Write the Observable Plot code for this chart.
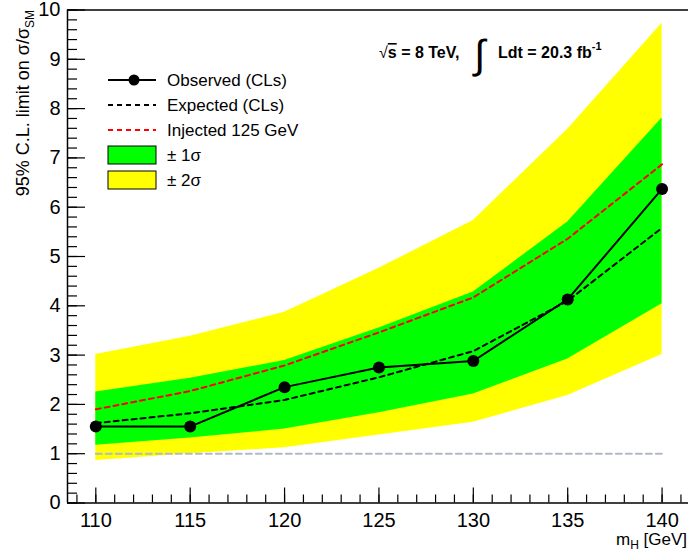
<!DOCTYPE html>
<html><head><meta charset="utf-8">
<script src="https://cdn.jsdelivr.net/npm/d3@7"></script>
<script src="https://cdn.jsdelivr.net/npm/@observablehq/plot@0.6"></script>
<style>body{margin:0;background:#fff;font-family:"Liberation Sans",Arial,sans-serif} svg{overflow:visible}</style>
</head><body><div id="chart"></div>
<script>
const mass     = [110, 115, 120, 125, 130, 135, 140];
const observed = [1.55, 1.55, 2.35, 2.75, 2.88, 4.13, 6.37];
const expected = [1.62, 1.82, 2.09, 2.55, 3.08, 4.10, 5.58];
const injected = [1.90, 2.27, 2.79, 3.46, 4.17, 5.36, 6.87];
const band1Lo  = [1.17, 1.32, 1.50, 1.83, 2.21, 2.92, 4.04];
const band1Hi  = [2.25, 2.53, 2.89, 3.55, 4.28, 5.70, 7.81];
const band2Lo  = [0.86, 1.00, 1.12, 1.38, 1.64, 2.18, 3.01];
const band2Hi  = [3.01, 3.38, 3.87, 4.76, 5.73, 7.58, 9.73];
const smRef    = 1;
const xTicks = [110, 115, 120, 125, 130, 135, 140];
const yTicks = [0, 1, 2, 3, 4, 5, 6, 7, 8, 9, 10];
const legendLabels = ["Observed (CLs)", "Expected (CLs)", "Injected 125 GeV", "± 1σ", "± 2σ"];

const rows = mass.map((m, i) => ({m, obs: observed[i], exp: expected[i], inj: injected[i],
  b1lo: band1Lo[i], b1hi: band1Hi[i], b2lo: band2Lo[i], b2hi: band2Hi[i]}));
const refLine = [{m: mass[0], v: smRef}, {m: mass[mass.length - 1], v: smRef}];

const W = 690, H = 552, mL = 67, mR = 2, mT = 9.5, mB = 49.5;
const plotW = W - mL - mR, plotH = H - mT - mB;
const xDomain = [108.5, 141.4];
const xMinor = d3.range(109, 142, 1);
const yMinor = d3.range(0, 10.001, 0.2);
const FONT = '"Liberation Sans", Arial, Helvetica, sans-serif';

const chart = Plot.plot({
  width: W, height: H, marginLeft: mL, marginRight: mR, marginTop: mT, marginBottom: mB,
  x: {domain: xDomain},
  y: {domain: [0, 10]},
  style: {fontFamily: FONT, fontSize: "20px", background: "white", color: "black", overflow: "visible"},
  marks: [
    Plot.areaY(rows, {x: "m", y1: "b2lo", y2: "b2hi", fill: "#ffff00"}),
    Plot.areaY(rows, {x: "m", y1: "b1lo", y2: "b1hi", fill: "#00ff00"}),
    Plot.line(refLine, {x: "m", y: "v", stroke: "#b0bac6", strokeWidth: 2, strokeDasharray: "6,4"}),
    Plot.line(rows, {x: "m", y: "inj", stroke: "#ff0000", strokeWidth: 2, strokeDasharray: "5,4"}),
    Plot.line(rows, {x: "m", y: "exp", stroke: "black", strokeWidth: 2, strokeDasharray: "5,4"}),
    Plot.line(rows, {x: "m", y: "obs", stroke: "black", strokeWidth: 2}),
    Plot.dot(rows, {x: "m", y: "obs", r: 6, fill: "black"}),
    Plot.tickY(yTicks, {y: d => d, insetRight: plotW - 18, stroke: "black", strokeWidth: 1.2}),
    Plot.tickY(yMinor, {y: d => d, insetRight: plotW - 10, stroke: "black", strokeWidth: 1.2}),
    Plot.tickX(xTicks, {x: d => d, insetTop: plotH - 15, stroke: "black", strokeWidth: 1.2}),
    Plot.tickX(xMinor, {x: d => d, insetTop: plotH - 8, stroke: "black", strokeWidth: 1.2}),
    Plot.ruleX([xDomain[0]], {stroke: "black", strokeWidth: 1.5}),
    Plot.ruleY([0], {stroke: "black", strokeWidth: 1.5}),
    Plot.ruleY([10], {stroke: "black", strokeWidth: 1.5}),
    Plot.axisY({ticks: yTicks, tickSize: 0, tickPadding: 7, label: null, fontSize: 20}),
    Plot.axisX({ticks: xTicks, tickSize: 0, tickPadding: 10, label: null, fontSize: 20})
  ]
});
document.getElementById("chart").append(chart);

const svg = d3.select(chart);
// y-axis label
const yl = svg.append("text").attr("transform", "translate(29,10) rotate(-90)")
  .attr("text-anchor", "end").attr("font-size", 18).attr("font-family", FONT).attr("fill", "black");
yl.append("tspan").text("95% C.L. limit on σ/σ");
yl.append("tspan").attr("font-size", 12).attr("dy", 5).text("SM");
// x-axis label
const xl = svg.append("text").attr("x", 687).attr("y", 545).attr("text-anchor", "end")
  .attr("font-size", 17).attr("font-family", FONT).attr("fill", "black");
xl.append("tspan").text("m");
xl.append("tspan").attr("font-size", 12).attr("dy", 4).text("H");
xl.append("tspan").attr("dy", -4).text(" [GeV]");
// energy / luminosity annotation
const ann = svg.append("g").attr("font-family", FONT).attr("fill", "black").attr("text-anchor", "start");
const sq = ann.append("text").attr("x", 379).attr("y", 58).attr("font-size", 16).attr("font-weight", "bold").attr("text-anchor", "start");
sq.append("tspan").attr("font-weight", "normal").text("√");
sq.append("tspan").attr("text-decoration", "overline").text("s");
sq.append("tspan").text(" = 8 TeV,");
ann.append("text").attr("x", 474).attr("y", 68).attr("font-size", 40).attr("text-anchor", "start").text("∫");
const lum = ann.append("text").attr("x", 498).attr("y", 58).attr("font-size", 16).attr("font-weight", "bold").attr("text-anchor", "start");
lum.append("tspan").text("Ldt = 20.3 fb");
lum.append("tspan").attr("font-size", 11).attr("dy", -8).text("-1");
// legend
const lg = svg.append("g").attr("font-family", FONT).attr("font-size", 17).attr("fill", "black").attr("text-anchor", "start");
const rowsY = [80, 105, 130, 155, 180];
lg.append("line").attr("x1", 108).attr("x2", 156).attr("y1", rowsY[0]).attr("y2", rowsY[0]).attr("stroke", "black").attr("stroke-width", 2);
lg.append("circle").attr("cx", 134).attr("cy", rowsY[0]).attr("r", 5.5).attr("fill", "black");
lg.append("line").attr("x1", 108).attr("x2", 156).attr("y1", rowsY[1]).attr("y2", rowsY[1]).attr("stroke", "black").attr("stroke-width", 2).attr("stroke-dasharray", "5,4");
lg.append("line").attr("x1", 108).attr("x2", 156).attr("y1", rowsY[2]).attr("y2", rowsY[2]).attr("stroke", "#ff0000").attr("stroke-width", 2).attr("stroke-dasharray", "5,4");
lg.append("rect").attr("x", 108).attr("y", rowsY[3] - 9).attr("width", 48).attr("height", 18).attr("fill", "#00ff00").attr("stroke", "black").attr("stroke-width", 1);
lg.append("rect").attr("x", 108).attr("y", rowsY[4] - 9).attr("width", 48).attr("height", 18).attr("fill", "#ffff00").attr("stroke", "black").attr("stroke-width", 1);
legendLabels.forEach((t, i) => {
  lg.append("text").attr("x", 167).attr("y", rowsY[i] + 6).attr("text-anchor", "start").text(t);
});
</script>
</body></html>
